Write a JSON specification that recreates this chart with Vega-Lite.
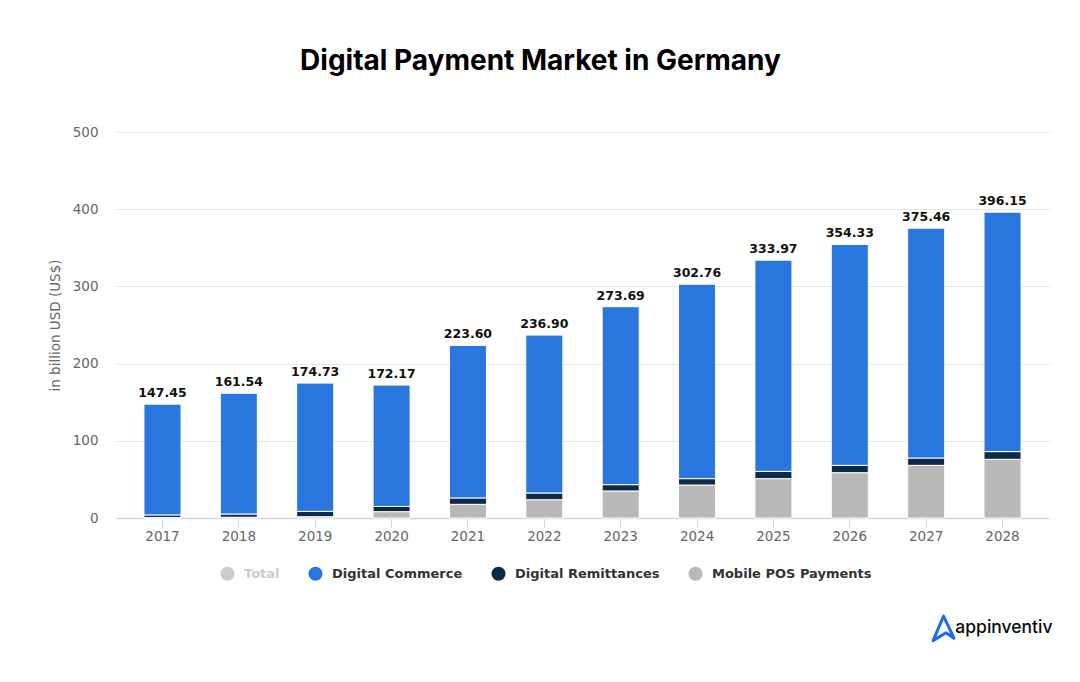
{
  "$schema": "https://vega.github.io/schema/vega-lite/v6.json",
  "width": 933,
  "height": 386,
  "autosize": "none",
  "padding": {"left": 116, "top": 132, "right": 31, "bottom": 164},
  "background": "white",
  "title": {
    "text": "Digital Payment Market in Germany",
    "font": "Inter",
    "fontSize": 28,
    "fontWeight": 700,
    "color": "#000000",
    "anchor": "middle",
    "dx": -42,
    "offset": 49
  },
  "config": {
    "view": {"stroke": null},
    "font": "DejaVu Sans"
  },
  "data": {
    "values": [
      {"year": "2017", "series": "Total", "value": 147.45},
      {"year": "2018", "series": "Total", "value": 161.54},
      {"year": "2019", "series": "Total", "value": 174.73},
      {"year": "2020", "series": "Total", "value": 172.17},
      {"year": "2021", "series": "Total", "value": 223.60},
      {"year": "2022", "series": "Total", "value": 236.90},
      {"year": "2023", "series": "Total", "value": 273.69},
      {"year": "2024", "series": "Total", "value": 302.76},
      {"year": "2025", "series": "Total", "value": 333.97},
      {"year": "2026", "series": "Total", "value": 354.33},
      {"year": "2027", "series": "Total", "value": 375.46},
      {"year": "2028", "series": "Total", "value": 396.15},
      {"year": "2017", "series": "Mobile POS Payments", "value": 0.5},
      {"year": "2018", "series": "Mobile POS Payments", "value": 1},
      {"year": "2019", "series": "Mobile POS Payments", "value": 1.7},
      {"year": "2020", "series": "Mobile POS Payments", "value": 8.2},
      {"year": "2021", "series": "Mobile POS Payments", "value": 17.7},
      {"year": "2022", "series": "Mobile POS Payments", "value": 23.7},
      {"year": "2023", "series": "Mobile POS Payments", "value": 35},
      {"year": "2024", "series": "Mobile POS Payments", "value": 42.7},
      {"year": "2025", "series": "Mobile POS Payments", "value": 51},
      {"year": "2026", "series": "Mobile POS Payments", "value": 58.7},
      {"year": "2027", "series": "Mobile POS Payments", "value": 68.2},
      {"year": "2028", "series": "Mobile POS Payments", "value": 76},
      {"year": "2017", "series": "Digital Remittances", "value": 3.5},
      {"year": "2018", "series": "Digital Remittances", "value": 4.2},
      {"year": "2019", "series": "Digital Remittances", "value": 6.9},
      {"year": "2020", "series": "Digital Remittances", "value": 6.8},
      {"year": "2021", "series": "Digital Remittances", "value": 8.3},
      {"year": "2022", "series": "Digital Remittances", "value": 8.7},
      {"year": "2023", "series": "Digital Remittances", "value": 8.2},
      {"year": "2024", "series": "Digital Remittances", "value": 8.3},
      {"year": "2025", "series": "Digital Remittances", "value": 9.4},
      {"year": "2026", "series": "Digital Remittances", "value": 9.5},
      {"year": "2027", "series": "Digital Remittances", "value": 9.5},
      {"year": "2028", "series": "Digital Remittances", "value": 10},
      {"year": "2017", "series": "Digital Commerce", "value": 143.45},
      {"year": "2018", "series": "Digital Commerce", "value": 156.34},
      {"year": "2019", "series": "Digital Commerce", "value": 166.13},
      {"year": "2020", "series": "Digital Commerce", "value": 157.17},
      {"year": "2021", "series": "Digital Commerce", "value": 197.6},
      {"year": "2022", "series": "Digital Commerce", "value": 204.5},
      {"year": "2023", "series": "Digital Commerce", "value": 230.49},
      {"year": "2024", "series": "Digital Commerce", "value": 251.76},
      {"year": "2025", "series": "Digital Commerce", "value": 273.57},
      {"year": "2026", "series": "Digital Commerce", "value": 286.13},
      {"year": "2027", "series": "Digital Commerce", "value": 297.76},
      {"year": "2028", "series": "Digital Commerce", "value": 310.15}
    ]
  },
  "encoding": {
    "x": {
      "field": "year",
      "type": "ordinal",
      "scale": {"paddingInner": 0.515, "paddingOuter": 0.366},
      "axis": {
        "title": null,
        "labelAngle": 0,
        "labelFont": "DejaVu Sans",
        "labelFontSize": 13.5,
        "labelColor": "#666666",
        "labelPadding": 2,
        "domainColor": "#ccd6eb",
        "domainWidth": 1.5,
        "tickColor": "#ccd6eb",
        "tickSize": 9,
        "grid": false
      }
    }
  },
  "layer": [
    {
      "transform": [{"filter": "datum.series !== 'Total'"}],
      "mark": {"type": "bar", "stroke": "white", "strokeWidth": 1},
      "encoding": {
        "y": {
          "field": "value",
          "type": "quantitative",
          "stack": "zero",
          "scale": {"domain": [0, 500]},
          "axis": {
            "title": "in billion USD (US$)",
            "titleFont": "DejaVu Sans",
            "titleFontSize": 13.5,
            "titleFontWeight": 400,
            "titleColor": "#666666",
            "titlePadding": 10,
            "values": [0, 100, 200, 300, 400, 500],
            "labelFontSize": 13.5,
            "labelColor": "#666666",
            "labelPadding": 18,
            "domain": false,
            "ticks": false,
            "gridColor": "#e6e6e6",
            "gridWidth": 1
          }
        },
        "color": {
          "field": "series",
          "type": "nominal",
          "scale": {
            "domain": ["Total", "Digital Commerce", "Digital Remittances", "Mobile POS Payments"],
            "range": ["#cccccc", "#2976df", "#0f2a45", "#b8b8b8"]
          },
          "legend": {
            "title": null,
            "orient": "none",
            "legendX": 104,
            "legendY": 434,
            "direction": "horizontal",
            "columns": 4,
            "columnPadding": 28,
            "symbolType": "circle",
            "symbolSize": 200,
            "symbolStrokeWidth": 0,
            "labelOffset": 9,
            "labelLimit": 300,
            "labelFont": "DejaVu Sans",
            "labelFontSize": 13,
            "labelFontWeight": 600,
            "labelColor": {"expr": "datum.label === 'Total' ? '#cccccc' : '#333333'"}
          }
        }
      }
    },
    {
      "transform": [{"filter": "datum.series === 'Total'"}],
      "mark": {
        "type": "text",
        "font": "DejaVu Sans",
        "fontSize": 12.5,
        "fontWeight": 700,
        "color": "#111111",
        "baseline": "bottom",
        "dy": -4
      },
      "encoding": {
        "y": {"field": "value", "type": "quantitative"},
        "text": {"field": "value", "type": "quantitative", "format": ".2f"}
      }
    },
    {
      "transform": [{"filter": "datum.series === 'Total' && datum.year === '2028'"}],
      "mark": {
        "type": "text",
        "text": "appinventiv",
        "font": "Inter",
        "fontSize": 17.5,
        "fontWeight": 500,
        "color": "#0a0a0a",
        "align": "right",
        "dx": 50
      },
      "encoding": {"y": {"datum": -143}}
    },
    {
      "transform": [{"filter": "datum.series === 'Total' && datum.year === '2028'"}],
      "mark": {
        "type": "point",
        "shape": "M0,-1 L0.85,0.8 L0.2,0.35 L-0.85,1 Z",
        "size": 600,
        "filled": false,
        "stroke": "#1a6cf0",
        "strokeWidth": 3,
        "strokeJoin": "round",
        "opacity": 1,
        "xOffset": -59
      },
      "encoding": {"y": {"datum": -143}}
    }
  ]
}
